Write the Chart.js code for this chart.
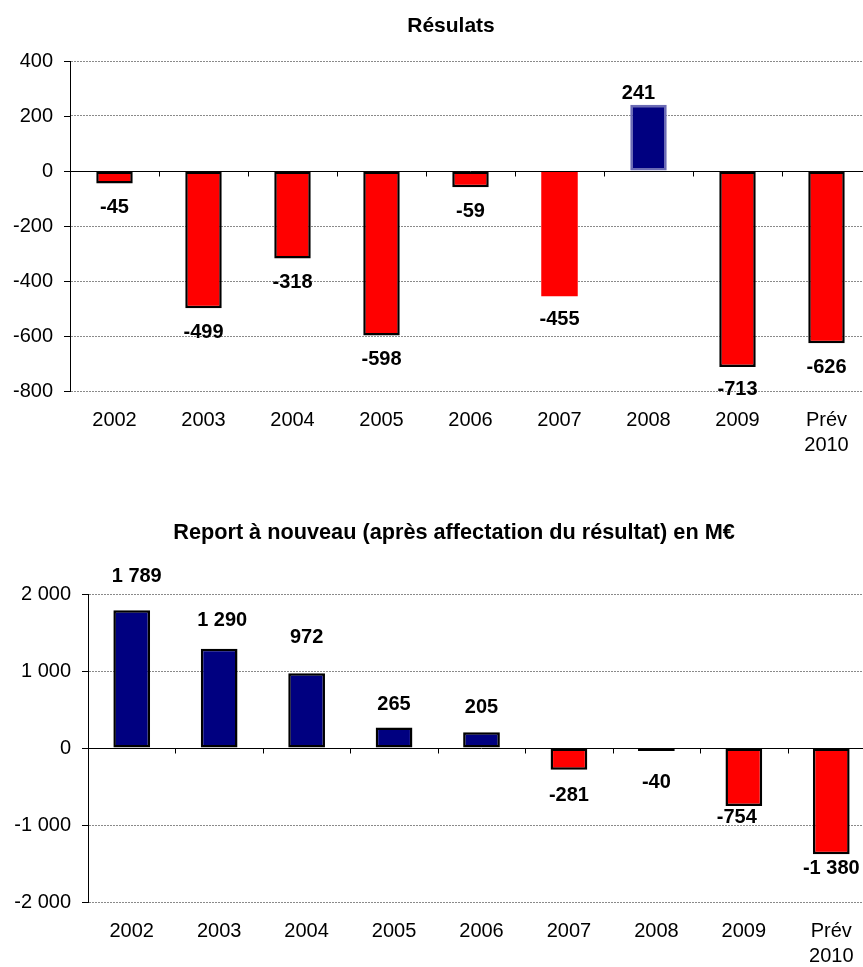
<!DOCTYPE html>
<html>
<head>
<meta charset="utf-8">
<script src="https://cdn.jsdelivr.net/npm/chart.js@4/dist/chart.umd.min.js"></script>
<style>
  html, body { margin: 0; padding: 0; background: #fff; overflow: hidden; }
  #top { position: absolute; left: 0; top: 0; width: 902px; height: 461px; }
  #bottom { position: absolute; left: 0; top: 470px; width: 908px; height: 502px; }
</style>
</head>
<body>
<div id="top"><canvas id="chartTop"></canvas></div>
<div id="bottom"><canvas id="chartBottom"></canvas></div>
<script>
const years = ["2002", "2003", "2004", "2005", "2006", "2007", "2008", "2009", ["Prév", "2010"]];
const resultats = [-45, -499, -318, -598, -59, -455, 241, -713, -626];
const reportANouveau = [1789, 1290, 972, 265, 205, -281, -40, -754, -1380];

const titleTop = "Résulats";
const titleBottom = "Report à nouveau (après affectation du résultat) en M€";

const RED = "#ff0000";
const NAVY = "#000080";
const FONT = "'Liberation Sans', Arial, sans-serif";

// label placement (gap from bar end, horizontal shift) as in the original
const topGaps = [24, 24, 24, 24, 24, 23, 11, 22, 24];
const topShifts = [0, 0, 0, 0, 0, 0, -10, 0, 0];
const bottomGaps = [34, 28, 36, 23, 25, 26, 31, 11, 14];
const bottomShifts = [5, 3, 0, 0, 0, 0, 0, -7, 0];

const fmt = (v) => {
  const s = String(Math.abs(v)).replace(/\B(?=(\d{3})+(?!\d))/g, " ");
  return (v < 0 ? "-" : "") + s;
};

const decoPlugin = {
  id: "deco",
  afterDatasetsDraw(chart, args, opts) {
    const { ctx, chartArea } = chart;
    const x = chart.scales.x;
    const y = chart.scales.y;
    const y0 = Math.round(y.getPixelForValue(0)) + 0.5;
    const n = chart.data.labels.length;

    ctx.save();
    ctx.strokeStyle = "#000";
    ctx.lineWidth = 1;
    ctx.beginPath();
    ctx.moveTo(chartArea.left, y0);
    ctx.lineTo(chartArea.right, y0);
    for (let i = 1; i <= n; i++) {
      const px = Math.round(x.left + (x.width * i) / n) + 0.5;
      ctx.moveTo(px, y0);
      ctx.lineTo(px, y0 + 5);
    }
    y.ticks.forEach((t) => {
      const py = Math.round(y.getPixelForValue(t.value)) + 0.5;
      ctx.moveTo(chartArea.left - 6, py);
      ctx.lineTo(chartArea.left, py);
    });
    ctx.stroke();

    const meta = chart.getDatasetMeta(0);
    const values = chart.data.datasets[0].data;
    ctx.fillStyle = "#000";
    ctx.font = "bold 20px " + FONT;
    ctx.textAlign = "center";
    ctx.textBaseline = "middle";
    meta.data.forEach((bar, i) => {
      const v = values[i];
      const ly = v >= 0 ? bar.y - opts.gaps[i] : bar.y + opts.gaps[i];
      ctx.fillText(fmt(v), bar.x + opts.shifts[i], ly);
    });
    ctx.restore();
  },
};

const makeChart = (id, cfg) =>
  new Chart(document.getElementById(id), {
    type: "bar",
    data: {
      labels: years,
      datasets: [
        {
          data: cfg.values,
          backgroundColor: cfg.values.map((v) => (v >= 0 ? NAVY : RED)),
          borderColor: cfg.borderColors,
          borderWidth: cfg.borderWidths,
          borderSkipped: false,
          barPercentage: cfg.barPct,
          categoryPercentage: 1,
        },
      ],
    },
    plugins: [decoPlugin],
    options: {
      responsive: true,
      maintainAspectRatio: false,
      animation: false,
      layout: { padding: 0 },
      plugins: {
        legend: { display: false },
        tooltip: { enabled: false },
        title: {
          display: true,
          text: cfg.title,
          color: "#000",
          font: { family: FONT, size: cfg.titleSize, weight: "bold", lineHeight: 1.2 },
          padding: cfg.titlePad,
        },
        deco: { gaps: cfg.gaps, shifts: cfg.shifts },
      },
      scales: {
        x: {
          grid: { display: false, drawTicks: false },
          border: { display: false },
          ticks: {
            color: "#000",
            font: { family: FONT, size: 20, lineHeight: 1.25 },
            padding: 17,
            maxRotation: 0,
            autoSkip: false,
          },
          afterFit: (s) => { s.height = 70; },
        },
        y: {
          min: cfg.min,
          max: cfg.max,
          grid: {
            drawTicks: false,
            color: (c) => (c.tick && c.tick.value === 0 ? "rgba(0,0,0,0)" : "#8a8a8a"),
            lineWidth: 1,
          },
          border: { display: true, color: "#000", width: 1, dash: [2, 1] },
          ticks: {
            stepSize: cfg.step,
            color: "#000",
            font: { family: FONT, size: 20 },
            padding: 17,
            callback: (v) => fmt(v),
          },
          afterFit: (s) => { s.width = cfg.axisWidth; },
        },
        // empty right-hand box: keeps the plot short of the title's full width
        spacer: {
          type: "linear",
          position: "right",
          grid: { display: false, drawTicks: false },
          border: { display: false },
          ticks: { display: false },
          afterFit: (s) => { s.width = cfg.rightGap; },
        },
      },
    },
  });

makeChart("chartTop", {
  values: resultats,
  title: titleTop,
  titleSize: 21,
  titlePad: { top: 14, bottom: 21.8 },
  min: -800,
  max: 400,
  step: 200,
  axisWidth: 70,
  rightGap: 31,
  barPct: 0.41,
  borderColors: ["#000", "#000", "#000", "#000", "#000", "#000", "#6b6bb5", "#000", "#000"],
  borderWidths: [2.5, 2.5, 2.5, 2.5, 2.5, 0, 2.5, 2.5, 2.5],
  gaps: topGaps,
  shifts: topShifts,
});

makeChart("chartBottom", {
  values: reportANouveau,
  title: titleBottom,
  titleSize: 21.7,
  titlePad: { top: 50, bottom: 48 },
  min: -2000,
  max: 2000,
  step: 1000,
  axisWidth: 88,
  rightGap: 33,
  barPct: 0.42,
  borderColors: "#000",
  borderWidths: 2.5,
  gaps: bottomGaps,
  shifts: bottomShifts,
});
</script>
</body>
</html>
